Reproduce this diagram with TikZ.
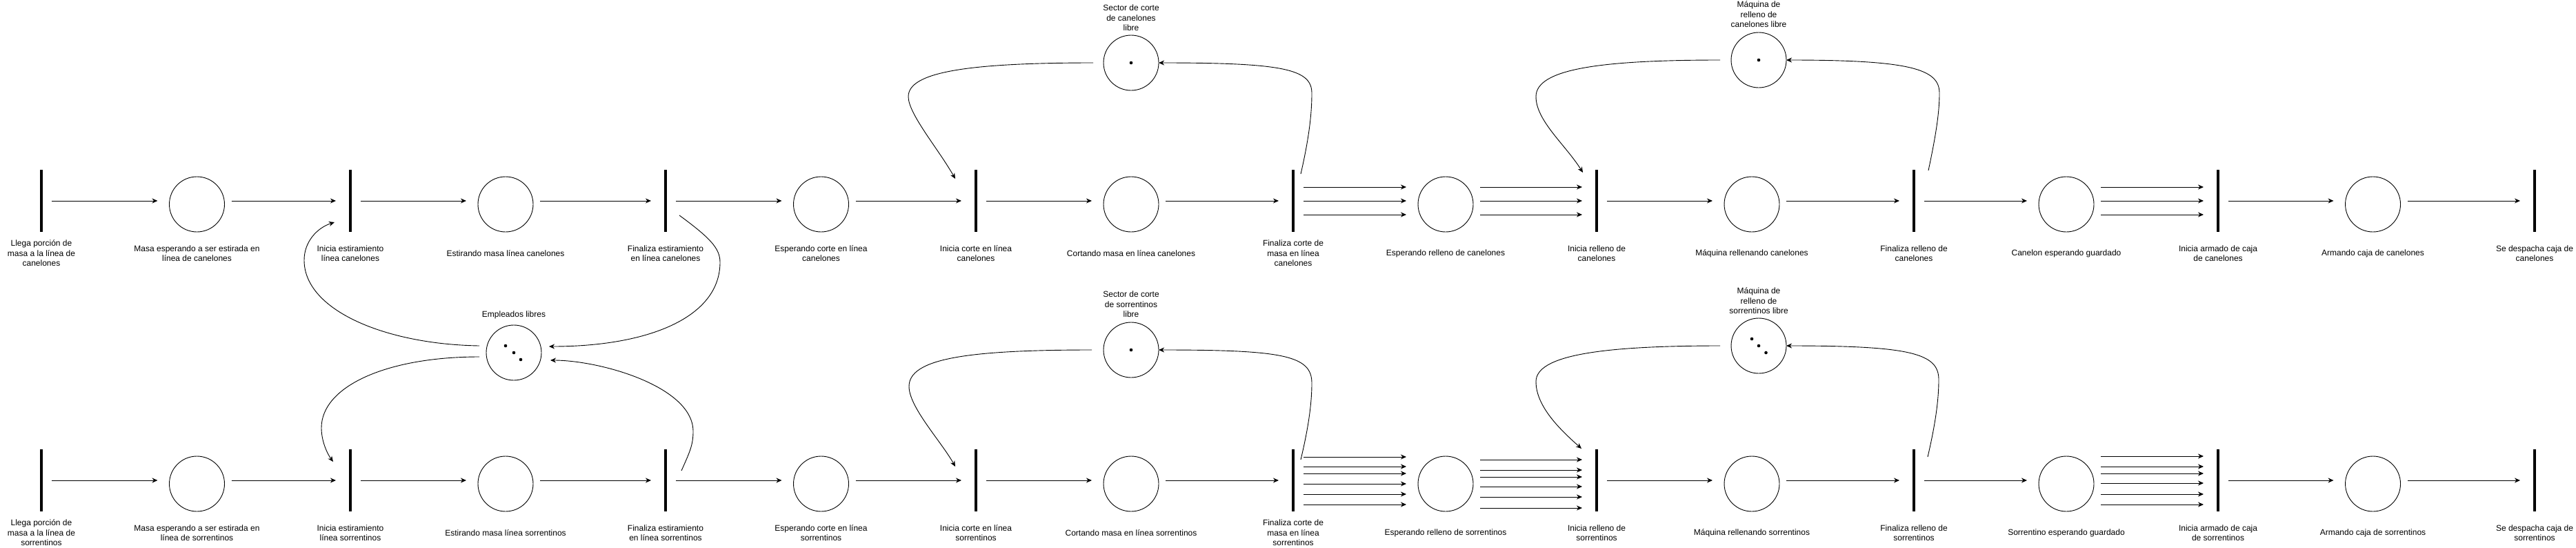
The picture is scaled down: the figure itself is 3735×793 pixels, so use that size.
\documentclass[tikz,border=0pt]{standalone}
\usepackage{fontspec}
\setmainfont{Liberation Sans}
\usetikzlibrary{arrows.meta,calc}
\begin{document}
\begin{tikzpicture}[x=1pt,y=-1pt,
  place/.style={circle,draw,line width=0.9pt,minimum size=80pt,inner sep=0pt,outer sep=0pt},
  trans/.style={rectangle,fill=black,minimum width=4pt,minimum height=90pt,inner sep=0pt,outer sep=0pt},
  lbl/.style={align=center,font=\fontsize{12}{14.5}\selectfont,inner sep=0pt},
  flow/.style={-{Stealth[length=8pt,width=7pt,inset=2.5pt]},line width=0.9pt},
  tp/.style={flow,shorten <=13pt,shorten >=17pt},
  pt/.style={flow,shorten <=10pt,shorten >=19pt},
  tok/.style={circle,fill=black,minimum size=4.6pt,inner sep=0pt}
]
\fill[white] (0,0) rectangle (3735,793);
\useasboundingbox (0,0) rectangle (3735,793);

% ---------------- top row (canelones)
\node[trans] (T1) at (60,291) {};
\node[place] (P1) at (285.5,296) {};
\node[trans] (T2) at (508,291) {};
\node[place] (P2) at (733,296) {};
\node[trans] (T3) at (965,291) {};
\node[place] (P3) at (1190.5,296) {};
\node[trans] (T4) at (1415,291) {};
\node[place] (P4) at (1640,296) {};
\node[trans] (T5) at (1875,291) {};
\node[place] (P5) at (2096,296) {};
\node[trans] (T6) at (2315,291) {};
\node[place] (P6) at (2540,296) {};
\node[trans] (T7) at (2775,291) {};
\node[place] (P7) at (2996,296) {};
\node[trans] (T8) at (3216,291) {};
\node[place] (P8) at (3440.5,296) {};
\node[trans] (T9) at (3675,291) {};

\node[lbl] (lT1) at (60,367) {Llega porción de\\masa a la línea de\\canelones};
\node[lbl] (lP1) at (285.5,367) {Masa esperando a ser estirada en\\línea de canelones};
\node[lbl] (lT2) at (508,367) {Inicia estiramiento\\línea canelones};
\node[lbl] (lP2) at (733,367) {Estirando masa línea canelones};
\node[lbl] (lT3) at (965,367) {Finaliza estiramiento\\en línea canelones};
\node[lbl] (lP3) at (1190.5,367) {Esperando corte en línea\\canelones};
\node[lbl] (lT4) at (1415,367) {Inicia corte en línea\\canelones};
\node[lbl] (lP4) at (1640,367) {Cortando masa en línea canelones};
\node[lbl] (lT5) at (1875,367) {Finaliza corte de\\masa en línea\\canelones};
\node[lbl] (lP5) at (2096,367) {Esperando relleno de canelones};
\node[lbl] (lT6) at (2315,367) {Inicia relleno de\\canelones};
\node[lbl] (lP6) at (2540,367) {Máquina rellenando canelones};
\node[lbl] (lT7) at (2775,367) {Finaliza relleno de\\canelones};
\node[lbl] (lP7) at (2996,367) {Canelon esperando guardado};
\node[lbl] (lT8) at (3216,367) {Inicia armado de caja\\de canelones};
\node[lbl] (lP8) at (3440.5,367) {Armando caja de canelones};
\node[lbl] (lT9) at (3675,367) {Se despacha caja de\\canelones};

% ---------------- bottom row (sorrentinos)
\node[trans] (T1b) at (60,696) {};
\node[place] (P1b) at (285.5,701) {};
\node[trans] (T2b) at (508,696) {};
\node[place] (P2b) at (733,701) {};
\node[trans] (T3b) at (965,696) {};
\node[place] (P3b) at (1190.5,701) {};
\node[trans] (T4b) at (1415,696) {};
\node[place] (P4b) at (1640,701) {};
\node[trans] (T5b) at (1875,696) {};
\node[place] (P5b) at (2096,701) {};
\node[trans] (T6b) at (2315,696) {};
\node[place] (P6b) at (2540,701) {};
\node[trans] (T7b) at (2775,696) {};
\node[place] (P7b) at (2996,701) {};
\node[trans] (T8b) at (3216,696) {};
\node[place] (P8b) at (3440.5,701) {};
\node[trans] (T9b) at (3675,696) {};

\node[lbl] (lT1b) at (60,772) {Llega porción de\\masa a la línea de\\sorrentinos};
\node[lbl] (lP1b) at (285.5,772) {Masa esperando a ser estirada en\\línea de sorrentinos};
\node[lbl] (lT2b) at (508,772) {Inicia estiramiento\\línea sorrentinos};
\node[lbl] (lP2b) at (733,772) {Estirando masa línea sorrentinos};
\node[lbl] (lT3b) at (965,772) {Finaliza estiramiento\\en línea sorrentinos};
\node[lbl] (lP3b) at (1190.5,772) {Esperando corte en línea\\sorrentinos};
\node[lbl] (lT4b) at (1415,772) {Inicia corte en línea\\sorrentinos};
\node[lbl] (lP4b) at (1640,772) {Cortando masa en línea sorrentinos};
\node[lbl] (lT5b) at (1875,772) {Finaliza corte de\\masa en línea\\sorrentinos};
\node[lbl] (lP5b) at (2096,772) {Esperando relleno de sorrentinos};
\node[lbl] (lT6b) at (2315,772) {Inicia relleno de\\sorrentinos};
\node[lbl] (lP6b) at (2540,772) {Máquina rellenando sorrentinos};
\node[lbl] (lT7b) at (2775,772) {Finaliza relleno de\\sorrentinos};
\node[lbl] (lP7b) at (2996,772) {Sorrentino esperando guardado};
\node[lbl] (lT8b) at (3216,772) {Inicia armado de caja\\de sorrentinos};
\node[lbl] (lP8b) at (3440.5,772) {Armando caja de sorrentinos};
\node[lbl] (lT9b) at (3675,772) {Se despacha caja de\\sorrentinos};

% ---------------- resources
\node[place] (S1) at (1640,91) {};
\node[tok] (s1t) at (1640,91) {};
\node[lbl] (lS1) at (1640,26) {Sector de corte\\de canelones\\libre};
\node[place] (M1) at (2550,87) {};
\node[tok] (m1t) at (2550,87) {};
\node[lbl] (lM1) at (2550,21) {Máquina de\\relleno de\\canelones libre};
\node[place] (E) at (745,511) {};
\node[tok] (et1) at (733,501) {};
\node[tok] (et2) at (745,511) {};
\node[tok] (et3) at (755,521) {};
\node[lbl] (lE) at (745,456.5) {Empleados libres};
\node[place] (S2) at (1640,507) {};
\node[tok] (s2t) at (1640,507) {};
\node[lbl] (lS2) at (1640,441) {Sector de corte\\de sorrentinos\\libre};
\node[place] (M2) at (2550,501) {};
\node[tok] (m2t1) at (2540,491) {};
\node[tok] (m2t2) at (2550,501) {};
\node[tok] (m2t3) at (2560.5,511) {};
\node[lbl] (lM2) at (2550,436) {Máquina de\\relleno de\\sorrentinos libre};

% ---------------- straight arcs, top row
\draw[tp] (T1.east) -- (T1.east -| P1.west);
\draw[pt] (P1.east |- T2.west) -- (T2.west);
\draw[tp] (T2.east) -- (T2.east -| P2.west);
\draw[pt] (P2.east |- T3.west) -- (T3.west);
\draw[tp] (T3.east) -- (T3.east -| P3.west);
\draw[pt] (P3.east |- T4.west) -- (T4.west);
\draw[tp] (T4.east) -- (T4.east -| P4.west);
\draw[pt] (P4.east |- T5.west) -- (T5.west);
\foreach \d in {-20,0,20} {
  \path (T5.east) ++(0,\d) coordinate (s);
  \draw[tp] (s) -- (s -| P5.west);
  \path (P5.east |- T6.west) ++(0,\d) coordinate (s);
  \draw[pt] (s) -- (s -| T6.west);
  \path (P7.east |- T8.west) ++(0,\d) coordinate (s);
  \draw[pt] (s) -- (s -| T8.west);
}
\draw[tp] (T6.east) -- (T6.east -| P6.west);
\draw[pt] (P6.east |- T7.west) -- (T7.west);
\draw[tp] (T7.east) -- (T7.east -| P7.west);
\draw[tp] (T8.east) -- (T8.east -| P8.west);
\draw[pt] (P8.east |- T9.west) -- (T9.west);

% ---------------- straight arcs, bottom row
\draw[tp] (T1b.east) -- (T1b.east -| P1b.west);
\draw[pt] (P1b.east |- T2b.west) -- (T2b.west);
\draw[tp] (T2b.east) -- (T2b.east -| P2b.west);
\draw[pt] (P2b.east |- T3b.west) -- (T3b.west);
\draw[tp] (T3b.east) -- (T3b.east -| P3b.west);
\draw[pt] (P3b.east |- T4b.west) -- (T4b.west);
\draw[tp] (T4b.east) -- (T4b.east -| P4b.west);
\draw[pt] (P4b.east |- T5b.west) -- (T5b.west);
\foreach \d in {-34,-20,-10,5,20,35} {
  \path (T5b.east) ++(0,\d) coordinate (s);
  \draw[tp] (s) -- (s -| P5b.west);
}
\foreach \d in {-30,-15,-5,9,24,40} {
  \path (P5b.east |- T6b.west) ++(0,\d) coordinate (s);
  \draw[pt] (s) -- (s -| T6b.west);
}
\draw[tp] (T6b.east) -- (T6b.east -| P6b.west);
\draw[pt] (P6b.east |- T7b.west) -- (T7b.west);
\draw[tp] (T7b.east) -- (T7b.east -| P7b.west);
\foreach \d in {-35,-20,-10,4,20,35} {
  \path (P7b.east |- T8b.west) ++(0,\d) coordinate (s);
  \draw[pt] (s) -- (s -| T8b.west);
}
\draw[tp] (T8b.east) -- (T8b.east -| P8b.west);
\draw[pt] (P8b.east |- T9b.west) -- (T9b.west);

% ---------------- curved arcs (resources)
\draw[flow] ($(E.center)+(-50,-10)$) .. controls (560,499) and (441,450) .. (441,377)
  .. controls (441,350) and (460,330) .. ($(T2.center)+(-23,31)$);
\draw[flow] ($(T3.center)+(20,21)$) .. controls (1030,345) and (1044,360) .. (1044,380)
  .. controls (1044,460) and (940,502) .. ($(E.center)+(51,-9)$);
\draw[flow] ($(E.center)+(-50,6)$) .. controls (560,517) and (466,560) .. (466,620)
  .. controls (466,640) and (475,658) .. ($(T2b.center)+(-25,-27)$);
\draw[flow] ($(T3b.center)+(23,-14)$) .. controls (1000,655) and (1005,645) .. (1005,625)
  .. controls (1005,560) and (870,522) .. ($(E.center)+(53,11)$);

\draw[flow] ($(S1.center)+(-55,0)$) .. controls (1400,91) and (1317,105) .. (1317,140)
  .. controls (1317,165) and (1360,215) .. ($(T4.center)+(-30,-32)$);
\draw[flow] ($(T5.center)+(11,-39)$) .. controls (1898,200) and (1902,165) .. (1902,135)
  .. controls (1902,100) and (1860,91) .. (S1.east);
\draw[flow] ($(S2.center)+(-57,0)$) .. controls (1400,507) and (1318,520) .. (1318,560)
  .. controls (1318,590) and (1365,640) .. ($(T4b.center)+(-30,-20)$);
\draw[flow] ($(T5b.center)+(11,-30)$) .. controls (1897,620) and (1902,585) .. (1902,555)
  .. controls (1902,515) and (1860,507) .. (S2.east);

\draw[flow] ($(M1.center)+(-56,0)$) .. controls (2320,87) and (2227,100) .. (2227,140)
  .. controls (2227,175) and (2270,210) .. ($(T6.center)+(-20,-41)$);
\draw[flow] ($(T7.center)+(21,-44)$) .. controls (2806,200) and (2812,165) .. (2812,135)
  .. controls (2812,100) and (2770,87) .. (M1.east);
\draw[flow] ($(M2.center)+(-56,0)$) .. controls (2320,501) and (2227,515) .. (2227,553)
  .. controls (2227,590) and (2265,625) .. ($(T6b.center)+(-22,-46)$);
\draw[flow] ($(T7b.center)+(20,-34)$) .. controls (2806,615) and (2811,580) .. (2811,550)
  .. controls (2811,512) and (2770,501) .. (M2.east);
\end{tikzpicture}
\end{document}
